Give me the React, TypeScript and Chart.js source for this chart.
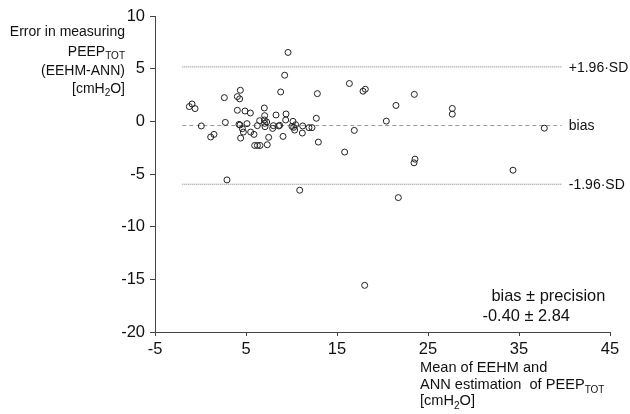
import React, { useEffect, useRef } from "react";
import { Chart, registerables } from "chart.js";

Chart.register(...registerables);

// Mean of EEHM and ANN estimation (x) and difference EEHM-ANN (y)
const meanValues = [
  -1.23, -0.93, -0.6, 0.09, 1.12, 1.48, 2.62, 2.73, 2.91, 4.05, 4.3, 4.38, 4.05, 4.89, 5.48,
  4.23, 4.34, 4.6, 4.71, 4.41, 5.11, 5.51, 5.88, 5.95, 6.25, 6.54, 6.25, 6.5, 7.01, 7.05,
  7.01, 7.05, 7.09, 7.27, 7.34, 7.49, 7.93, 8.0, 8.3, 8.59, 8.7, 8.81, 9.07, 9.25, 9.4,
  9.36, 9.62, 10.16, 10.05, 10.24, 10.35, 10.46, 10.9, 11.23, 11.19, 11.92, 12.25, 12.73, 12.84, 12.95,
  15.84, 16.36, 16.9, 17.86, 18.11, 23.5, 21.48, 20.42, 27.67, 27.67, 37.78, 23.57, 23.46, 34.34, 21.74,
  18.04,
];
const diffValues = [
  1.4, 1.65, 1.21, -0.44, -1.49, -1.24, 2.25, -0.1, -5.56, 2.35, 2.13, 2.95, 1.05, 0.98, 0.79,
  -0.29, -0.35, -0.7, -1.02, -1.59, -0.22, -1.02, -1.24, -2.29, -2.29, -2.29, -0.41, 0.06, 1.27, 0.54,
  0.13, -0.19, -0.51, -0.06, -2.22, -1.52, -0.67, -0.41, 0.6, -0.44, -0.38, 2.79, -1.43, 4.38, 0.7,
  0.13, 6.54, 0.0, -0.48, -0.57, -0.83, -0.32, -6.54, -0.44, -1.11, -0.6, -0.6, 0.29, 2.63, -1.97,
  -2.92, 3.59, -0.86, 2.86, 3.05, 2.56, 1.51, 0.02, 1.22, 0.68, -0.65, -3.59, -3.94, -4.64, -7.24,
  -15.57,
];

const biasValue = -0.4;
const upperLimit = 5.17;
const lowerLimit = -5.97;
const limitLineStart = -2;
const limitLineEnd = 39.7;
const lineLabels = ["+1.96·SD", "bias", "-1.96·SD"];

const xMin = -5;
const xMax = 45;
const xStep = 10;
const yMin = -20;
const yMax = 10;
const yStep = 5;

type Part = { t: string; sub?: boolean };
const yTitleLines: Part[][] = [
  [{ t: "Error in measuring" }],
  [{ t: "PEEP" }, { t: "TOT", sub: true }],
  [{ t: "(EEHM-ANN)" }],
  [{ t: "[cmH" }, { t: "2", sub: true }, { t: "O]" }],
];
const xTitleLines: Part[][] = [
  [{ t: "Mean of EEHM and" }],
  [{ t: "ANN estimation  of PEEP" }, { t: "TOT", sub: true }],
  [{ t: "[cmH" }, { t: "2", sub: true }, { t: "O]" }],
];
const statsLines = ["bias ± precision", "-0.40 ± 2.84"];

const FONT = '"Liberation Sans", Arial, sans-serif';
const TEXT = "#111";

function drawRich(ctx: CanvasRenderingContext2D, parts: Part[], x: number, y: number, align: "left" | "right", size: number) {
  const main = `${size}px ${FONT}`;
  const sub = `${Math.round(size * 0.68)}px ${FONT}`;
  const widths = parts.map((p) => {
    ctx.font = p.sub ? sub : main;
    return ctx.measureText(p.t).width;
  });
  const total = widths.reduce((a, b) => a + b, 0);
  let cx = align === "right" ? x - total : x;
  ctx.textAlign = "left";
  ctx.textBaseline = "alphabetic";
  parts.forEach((p, i) => {
    ctx.font = p.sub ? sub : main;
    ctx.fillText(p.t, cx, p.sub ? y + size * 0.28 : y);
    cx += widths[i];
  });
}

const textPlugin = {
  id: "blandAltmanText",
  afterDraw(chart: any) {
    const ctx: CanvasRenderingContext2D = chart.ctx;
    const xs = chart.scales.x;
    const ys = chart.scales.y;
    ctx.save();
    ctx.fillStyle = TEXT;
    // y title
    const yBase = [36, 55.5, 74.5, 92.5];
    yTitleLines.forEach((l, i) => drawRich(ctx, l, 125, yBase[i], "right", 14));
    // x title
    const xBase = [371.5, 388.5, 405];
    xTitleLines.forEach((l, i) => drawRich(ctx, l, 420, xBase[i], "left", 14.6));
    // stats
    ctx.font = `16.4px ${FONT}`;
    ctx.textAlign = "left";
    ctx.textBaseline = "alphabetic";
    ctx.fillText(statsLines[0], 491.5, 300.5);
    ctx.fillText(statsLines[1], 482.5, 320.5);
    // line labels
    ctx.font = `14px ${FONT}`;
    ctx.textBaseline = "middle";
    const lx = xs.getPixelForValue(limitLineEnd) + 7;
    [upperLimit, biasValue, lowerLimit].forEach((v, i) => {
      ctx.fillText(lineLabels[i], lx, ys.getPixelForValue(v) + 1);
    });
    ctx.restore();
  },
};

export default function App() {
  const ref = useRef<HTMLCanvasElement | null>(null);
  useEffect(() => {
    if (!ref.current) return;
    const points = meanValues.map((m, i) => ({ x: m, y: diffValues[i] }));
    const hline = (v: number) => [
      { x: limitLineStart, y: v },
      { x: limitLineEnd, y: v },
    ];
    const chart = new Chart(ref.current, {
      type: "scatter",
      data: {
        datasets: [
          {
            data: points,
            pointRadius: 3,
            pointBorderWidth: 1,
            pointBorderColor: "#222",
            pointBackgroundColor: "rgba(0,0,0,0)",
            showLine: false,
          },
          {
            type: "line",
            data: hline(upperLimit),
            borderColor: "#777",
            borderWidth: 1,
            borderDash: [1, 1],
            pointRadius: 0,
            fill: false,
          },
          {
            type: "line",
            data: hline(biasValue),
            borderColor: "#999",
            borderWidth: 1,
            borderDash: [4, 3],
            pointRadius: 0,
            fill: false,
          },
          {
            type: "line",
            data: hline(lowerLimit),
            borderColor: "#777",
            borderWidth: 1,
            borderDash: [1, 1],
            pointRadius: 0,
            fill: false,
          },
        ] as any,
      },
      options: {
        animation: false,
        responsive: false,
        layout: { padding: { left: 0, top: 16, right: 20, bottom: 0 } },
        plugins: { legend: { display: false }, tooltip: { enabled: false } },
        scales: {
          x: {
            type: "linear",
            min: xMin,
            max: xMax,
            ticks: { stepSize: xStep, color: TEXT, font: { family: FONT, size: 16.5 }, padding: 4 },
            grid: { drawOnChartArea: false, drawTicks: true, tickLength: 4, color: "#444" },
            border: { display: true, color: "#444", width: 1 },
            afterFit: (s: any) => {
              s.height = 82;
            },
          },
          y: {
            type: "linear",
            min: yMin,
            max: yMax,
            ticks: { stepSize: yStep, color: TEXT, font: { family: FONT, size: 16.5 }, padding: 5 },
            grid: { drawOnChartArea: false, drawTicks: true, tickLength: 5, color: "#444" },
            border: { display: true, color: "#444", width: 1 },
            afterFit: (s: any) => {
              s.width = 155;
            },
          },
        },
      },
      plugins: [textPlugin],
    });
    return () => chart.destroy();
  }, []);
  return (
    <div style={{ position: "absolute", left: 0, top: 0, width: 630, height: 414, background: "#fff" }}>
      <canvas ref={ref} width={630} height={414} style={{ display: "block" }} />
    </div>
  );
}
